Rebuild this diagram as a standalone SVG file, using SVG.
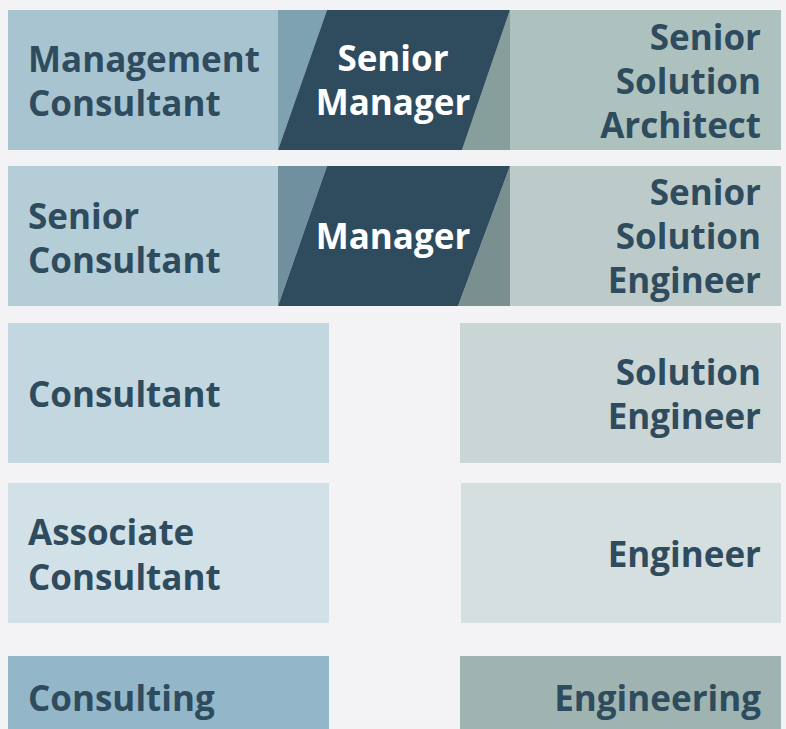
<svg xmlns="http://www.w3.org/2000/svg" width="786" height="729" viewBox="0 0 786 729">
<style>
  text { font-family: "Open Sans", "Noto Sans", "Liberation Sans", sans-serif; font-weight: 700; font-size: 35px; fill: #2f4b5e; }
  .c { fill: #ffffff; text-anchor: middle; }
  .r { text-anchor: end; }
  .dark { fill: #2f4b5e; }
</style>
<rect x="0" y="0" width="786" height="729" fill="#f3f3f5"/>
<g id="connectors"></g>

<g id="management-consultant">
  <rect x="8" y="10" width="270" height="140" fill="#a8c4d1"/>
  <text x="28" y="72">Management</text>
  <text x="28" y="116">Consultant</text>
</g>
<g id="senior-manager">
  <polygon points="278,10 327,10 278,150" fill="#7fa2b3"/>
  <polygon points="510,10 510,150 462,150" fill="#869e9c"/>
  <polygon class="dark" points="327,10 510,10 462,150 278,150"/>
  <text class="c" x="393" y="71">Senior</text>
  <text class="c" x="393" y="115">Manager</text>
</g>
<g id="senior-solution-architect">
  <rect x="510" y="10" width="271" height="140" fill="#adc1bf"/>
  <text class="r" x="761" y="50">Senior</text>
  <text class="r" x="761" y="94">Solution</text>
  <text class="r" x="761" y="138">Architect</text>
</g>

<g id="senior-consultant">
  <rect x="8" y="166" width="270" height="140" fill="#b5cdd7"/>
  <text x="28" y="229">Senior</text>
  <text x="28" y="273">Consultant</text>
</g>
<g id="manager">
  <polygon points="278,166 327,166 278,306" fill="#7090a0"/>
  <polygon points="510,166 510,306 458,306" fill="#798f90"/>
  <polygon class="dark" points="327,166 510,166 458,306 278,306"/>
  <text class="c" x="393" y="249">Manager</text>
</g>
<g id="senior-solution-engineer">
  <rect x="510" y="166" width="271" height="140" fill="#bccbca"/>
  <text class="r" x="761" y="205">Senior</text>
  <text class="r" x="761" y="249">Solution</text>
  <text class="r" x="761" y="293">Engineer</text>
</g>

<g id="consultant">
  <rect x="8" y="323" width="321" height="140" fill="#c3d7e0"/>
  <text x="28" y="407">Consultant</text>
</g>
<g id="solution-engineer">
  <rect x="460" y="323" width="321" height="140" fill="#c9d6d5"/>
  <text class="r" x="761" y="385">Solution</text>
  <text class="r" x="761" y="429">Engineer</text>
</g>

<g id="associate-consultant">
  <rect x="8" y="483" width="321" height="140" fill="#d2e0e7"/>
  <text x="28" y="545">Associate</text>
  <text x="28" y="590">Consultant</text>
</g>
<g id="engineer">
  <rect x="461" y="483" width="320" height="140" fill="#d5dfdf"/>
  <text class="r" x="761" y="567">Engineer</text>
</g>

<g id="consulting">
  <rect x="8" y="656" width="321" height="80" fill="#93b6c8"/>
  <text x="28" y="711">Consulting</text>
</g>
<g id="engineering">
  <rect x="460" y="656" width="321" height="80" fill="#9fb4b1"/>
  <text class="r" x="761" y="711">Engineering</text>
</g>
</svg>
